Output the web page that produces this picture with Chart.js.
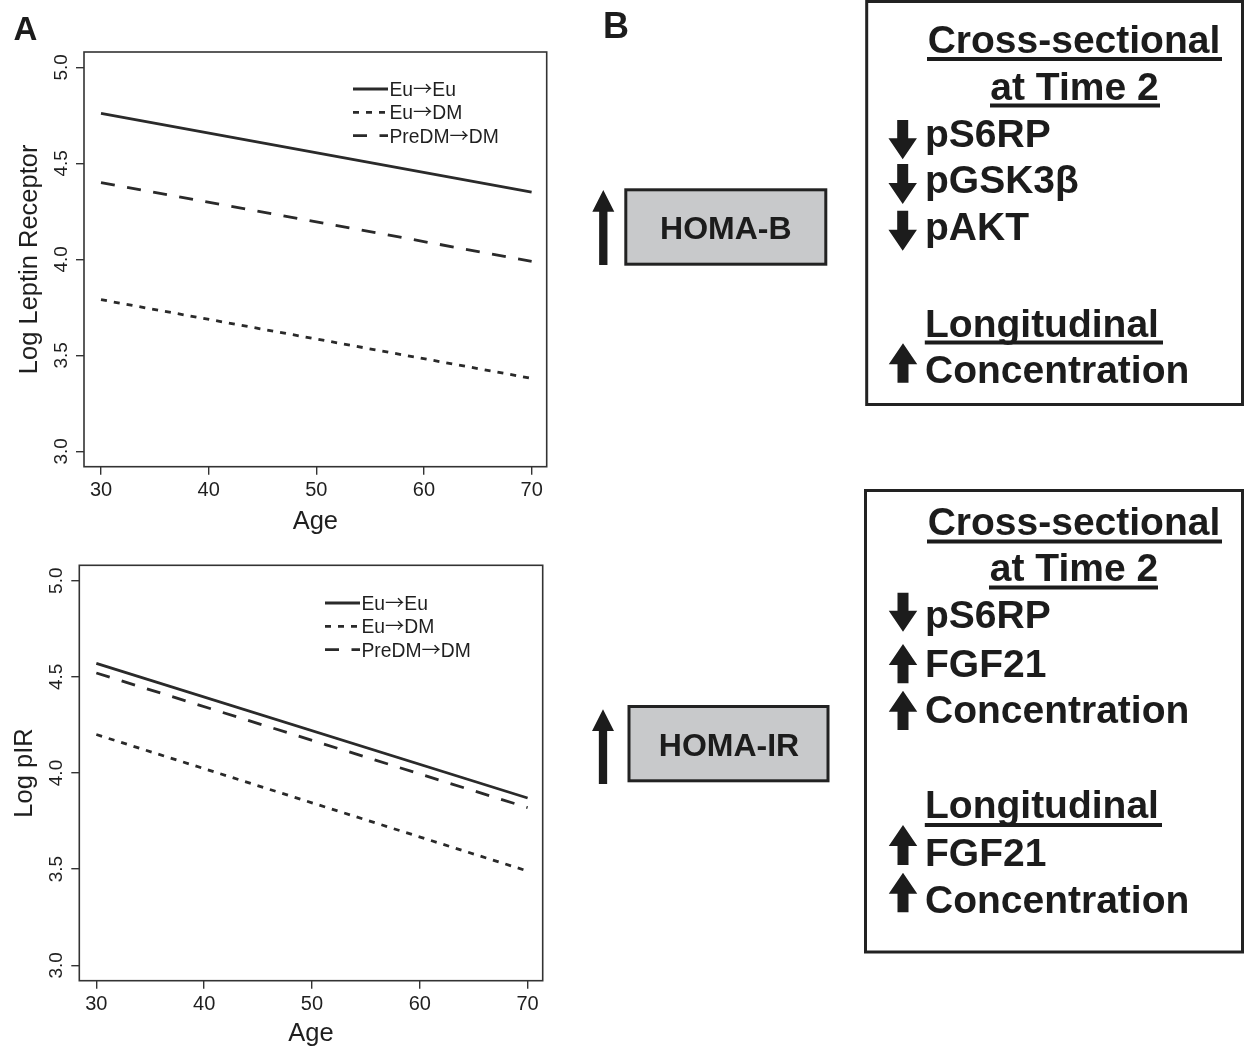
<!DOCTYPE html>
<html>
<head>
<meta charset="utf-8">
<script src="https://cdn.jsdelivr.net/npm/chart.js@4.4.1/dist/chart.umd.min.js"></script>
<style>
  html, body { margin: 0; padding: 0; background: #ffffff; }
  body { width: 1245px; height: 1047px; position: relative; overflow: hidden;
         font-family: "Liberation Sans", Arial, Helvetica, sans-serif; }
  .cw { position: absolute; left: 0; width: 560px; }
  #w1 { top: 0; height: 540px; }
  #w2 { top: 540px; height: 510px; }
  #panel { position: absolute; left: 0; top: 0; }
  #panel text { font-family: "Liberation Sans", Arial, Helvetica, sans-serif; font-weight: bold; fill: #1c1c1c; }
</style>
</head>
<body>
<div id="w1" class="cw"><canvas id="c1"></canvas></div>
<div id="w2" class="cw"><canvas id="c2"></canvas></div>
<svg id="panel" width="1245" height="1047" xmlns="http://www.w3.org/2000/svg">
  <text x="13.5" y="39.5" font-size="33">A</text>
  <text x="603" y="37.7" font-size="36">B</text>

  <!-- HOMA boxes -->
  <rect x="625.8" y="189.8" width="200" height="74.4" fill="#c8c9cb" stroke="#222" stroke-width="3"/>
  <text x="725.8" y="239.3" font-size="32" text-anchor="middle">HOMA-B</text>
  <rect x="629" y="706.5" width="199" height="74.3" fill="#c8c9cb" stroke="#222" stroke-width="3"/>
  <text x="729" y="756" font-size="32" text-anchor="middle">HOMA-IR</text>

  <!-- Top box -->
  <rect x="866.7" y="1.5" width="375.8" height="403" fill="none" stroke="#222" stroke-width="3"/>
  <g font-size="39">
    <text x="1074" y="52.5" text-anchor="middle">Cross-sectional</text>
    <text x="1074.5" y="99.5" text-anchor="middle">at Time 2</text>
    <text x="925" y="146.5">pS6RP</text>
    <text x="925" y="193.3">pGSK3β</text>
    <text x="925" y="240">pAKT</text>
    <text x="925" y="336.7">Longitudinal</text>
    <text x="925" y="382.7">Concentration</text>
  </g>
  <g stroke="#1c1c1c" stroke-width="4">
    <line x1="927" x2="1222" y1="59" y2="59"/>
    <line x1="990" x2="1160" y1="105.5" y2="105.5"/>
    <line x1="924.8" x2="1163" y1="342.5" y2="342.5"/>
  </g>

  <!-- Bottom box -->
  <rect x="865.5" y="490.5" width="377" height="461.5" fill="none" stroke="#222" stroke-width="3"/>
  <g font-size="39">
    <text x="1074" y="535" text-anchor="middle">Cross-sectional</text>
    <text x="1074" y="581" text-anchor="middle">at Time 2</text>
    <text x="925" y="628.3">pS6RP</text>
    <text x="925" y="676.7">FGF21</text>
    <text x="925" y="723.3">Concentration</text>
    <text x="925" y="818.3">Longitudinal</text>
    <text x="925" y="866">FGF21</text>
    <text x="925" y="913.3">Concentration</text>
  </g>
  <g stroke="#1c1c1c" stroke-width="4">
    <line x1="927" x2="1222" y1="541.5" y2="541.5"/>
    <line x1="989" x2="1158" y1="587.5" y2="587.5"/>
    <line x1="924.8" x2="1162" y1="825" y2="825"/>
  </g>
  <g id="arrows" fill="#1c1c1c"></g>
</svg>

<script>
// ---------------- Data ----------------
const ages = [30, 70];
const xTicks = [30, 40, 50, 60, 70];
const yTicks = [3.0, 3.5, 4.0, 4.5, 5.0];
const groupLabels = ['Eu\u2192Eu', 'Eu\u2192DM', 'PreDM\u2192DM'];

const leptinEuEu  = [4.76, 4.35];
const leptinEuDM  = [3.79, 3.38];
const leptinPreDM = [4.40, 3.99];

const pirEuEu  = [4.57, 3.87];
const pirEuDM  = [4.20, 3.49];
const pirPreDM = [4.52, 3.82];

// ---------------- Styles ----------------
const FONT = "'Liberation Sans', Arial, Helvetica, sans-serif";
const ARROW_FONT = "'Noto Sans CJK JP', 'Noto Sans CJK SC', 'DejaVu Sans', sans-serif";
const INK = '#1f1f1f';
const LINE = '#2a2a2a';
const dashes = [[], [6, 7], [14, 12.5]];

const frameBox = {
  id: 'frameBox',
  afterDatasetsDraw(chart, args, opts) {
    const { ctx, chartArea: a } = chart;
    ctx.save();
    ctx.strokeStyle = opts.color;
    ctx.lineWidth = opts.width;
    ctx.strokeRect(a.left, a.top, a.right - a.left, a.bottom - a.top);
    ctx.restore();
  }
};

const lineLegend = {
  id: 'lineLegend',
  afterDraw(chart, args, opts) {
    const ctx = chart.ctx;
    chart.data.datasets.forEach((ds, i) => {
      const y = opts.y + i * opts.rowGap;
      ctx.save();
      ctx.strokeStyle = ds.borderColor;
      ctx.lineWidth = ds.borderWidth;
      ctx.setLineDash(ds.borderDash || []);
      ctx.beginPath();
      ctx.moveTo(opts.x, y);
      ctx.lineTo(opts.x + opts.sample, y);
      ctx.stroke();
      ctx.setLineDash([]);
      ctx.fillStyle = opts.color;
      ctx.textAlign = 'left';
      ctx.textBaseline = 'alphabetic';
      const base = y + 0.358 * opts.size;
      let tx = opts.x + opts.sample + opts.gap;
      ds.label.split(/(\u2192)/).forEach(part => {
        if (!part) return;
        ctx.font = opts.size + 'px ' + (part === '\u2192' ? ARROW_FONT : FONT);
        ctx.fillText(part, tx, base);
        tx += ctx.measureText(part).width;
      });
      ctx.restore();
    });
  }
};

function makeChart(id, yTitle, series, geo) {
  return new Chart(document.getElementById(id), {
    type: 'line',
    data: {
      datasets: series.map((vals, i) => ({
        label: groupLabels[i],
        data: ages.map((a, k) => ({ x: a, y: vals[k] })),
        borderColor: LINE,
        borderWidth: 2.8,
        borderDash: dashes[i],
        pointRadius: 0,
        fill: false,
        tension: 0
      }))
    },
    options: {
      responsive: true,
      maintainAspectRatio: false,
      animation: false,
      events: [],
      layout: { padding: { top: geo.padTop, right: geo.padRight, left: 0, bottom: 0 } },
      plugins: {
        legend: { display: false },
        tooltip: { enabled: false },
        frameBox: { color: '#333', width: 1.6 },
        lineLegend: { x: geo.legX, y: geo.legY, rowGap: 23.35, sample: 35, gap: 1.5,
                      size: 19.3, color: INK }
      },
      scales: {
        x: {
          type: 'linear', min: 28.42, max: 71.4,
          afterBuildTicks: s => { s.ticks = xTicks.map(v => ({ value: v })); },
          afterFit: s => { s.height = geo.xAxisH; },
          grid: { drawOnChartArea: false, drawTicks: true, tickLength: 8, color: '#333', lineWidth: 1.4 },
          border: { display: false },
          ticks: { font: { family: FONT, size: 20 }, color: INK, padding: 4, maxRotation: 0, autoSkip: false },
          title: { display: true, text: 'Age', color: INK, font: { family: FONT, size: 25.5 },
                   padding: { top: 0, bottom: geo.xTitlePad } }
        },
        y: {
          type: 'linear', min: 2.92, max: 5.08,
          afterBuildTicks: s => { s.ticks = yTicks.map(v => ({ value: v })); },
          afterFit: s => { s.width = geo.yAxisW; },
          grid: { drawOnChartArea: false, drawTicks: true, tickLength: 8, color: '#333', lineWidth: 1.4 },
          border: { display: false },
          ticks: { font: { family: FONT, size: 19 }, color: INK, padding: 1.4,
                   minRotation: 90, maxRotation: 90, crossAlign: 'center', autoSkip: false,
                   callback: v => Number(v).toFixed(1) },
          title: { display: true, text: yTitle, color: INK, font: { family: FONT, size: 25.5 },
                   padding: { top: geo.yTitlePad, bottom: 0 } }
        }
      }
    },
    plugins: [frameBox, lineLegend]
  });
}

makeChart('c1', 'Log Leptin Receptor', [leptinEuEu, leptinEuDM, leptinPreDM], {
  padTop: 52, padRight: 13.3, yAxisW: 84, xAxisH: 73.3, xTitlePad: 3, yTitlePad: 14.2,
  legX: 353, legY: 89
});
makeChart('c2', 'Log pIR', [pirEuEu, pirEuDM, pirPreDM], {
  padTop: 25.3, padRight: 17.3, yAxisW: 79.3, xAxisH: 69.3, xTitlePad: 1, yTitlePad: 9.7,
  legX: 325, legY: 63
});

// ---------------- Panel B arrows ----------------
function arrowPath(cx, yTop, yBot, up, headW, headH, shaftW) {
  const hw = headW / 2, sw = shaftW / 2;
  if (up) {
    const hb = yTop + headH;
    return `M${cx},${yTop} L${cx + hw},${hb} L${cx + sw},${hb} L${cx + sw},${yBot} L${cx - sw},${yBot} L${cx - sw},${hb} L${cx - hw},${hb} Z`;
  }
  const hb = yBot - headH;
  return `M${cx},${yBot} L${cx + hw},${hb} L${cx + sw},${hb} L${cx + sw},${yTop} L${cx - sw},${yTop} L${cx - sw},${hb} L${cx - hw},${hb} Z`;
}
const arrowSpecs = [
  // [cx, top, bottom, up, headW, headH, shaftW]
  [603.3, 190, 265, true, 22, 21.7, 8.3],
  [603, 709.3, 784, true, 22, 21.7, 8.3],
  [902.7, 120, 159.3, false, 28.5, 21, 11],
  [902.7, 164, 204, false, 28.5, 21, 11],
  [902.7, 210.7, 250.7, false, 28.5, 21, 11],
  [903, 343.3, 382.7, true, 28.5, 21, 11],
  [903, 592.7, 631.7, false, 28.5, 21, 11],
  [903, 644, 683.3, true, 28.5, 21, 11],
  [903, 690.7, 730, true, 28.5, 21, 11],
  [903, 825, 865, true, 28.5, 21, 11],
  [903, 872.7, 912.3, true, 28.5, 21, 11]
];
const g = document.getElementById('arrows');
arrowSpecs.forEach(s => {
  const p = document.createElementNS('http://www.w3.org/2000/svg', 'path');
  p.setAttribute('d', arrowPath(...s));
  g.appendChild(p);
});
</script>
</body>
</html>
